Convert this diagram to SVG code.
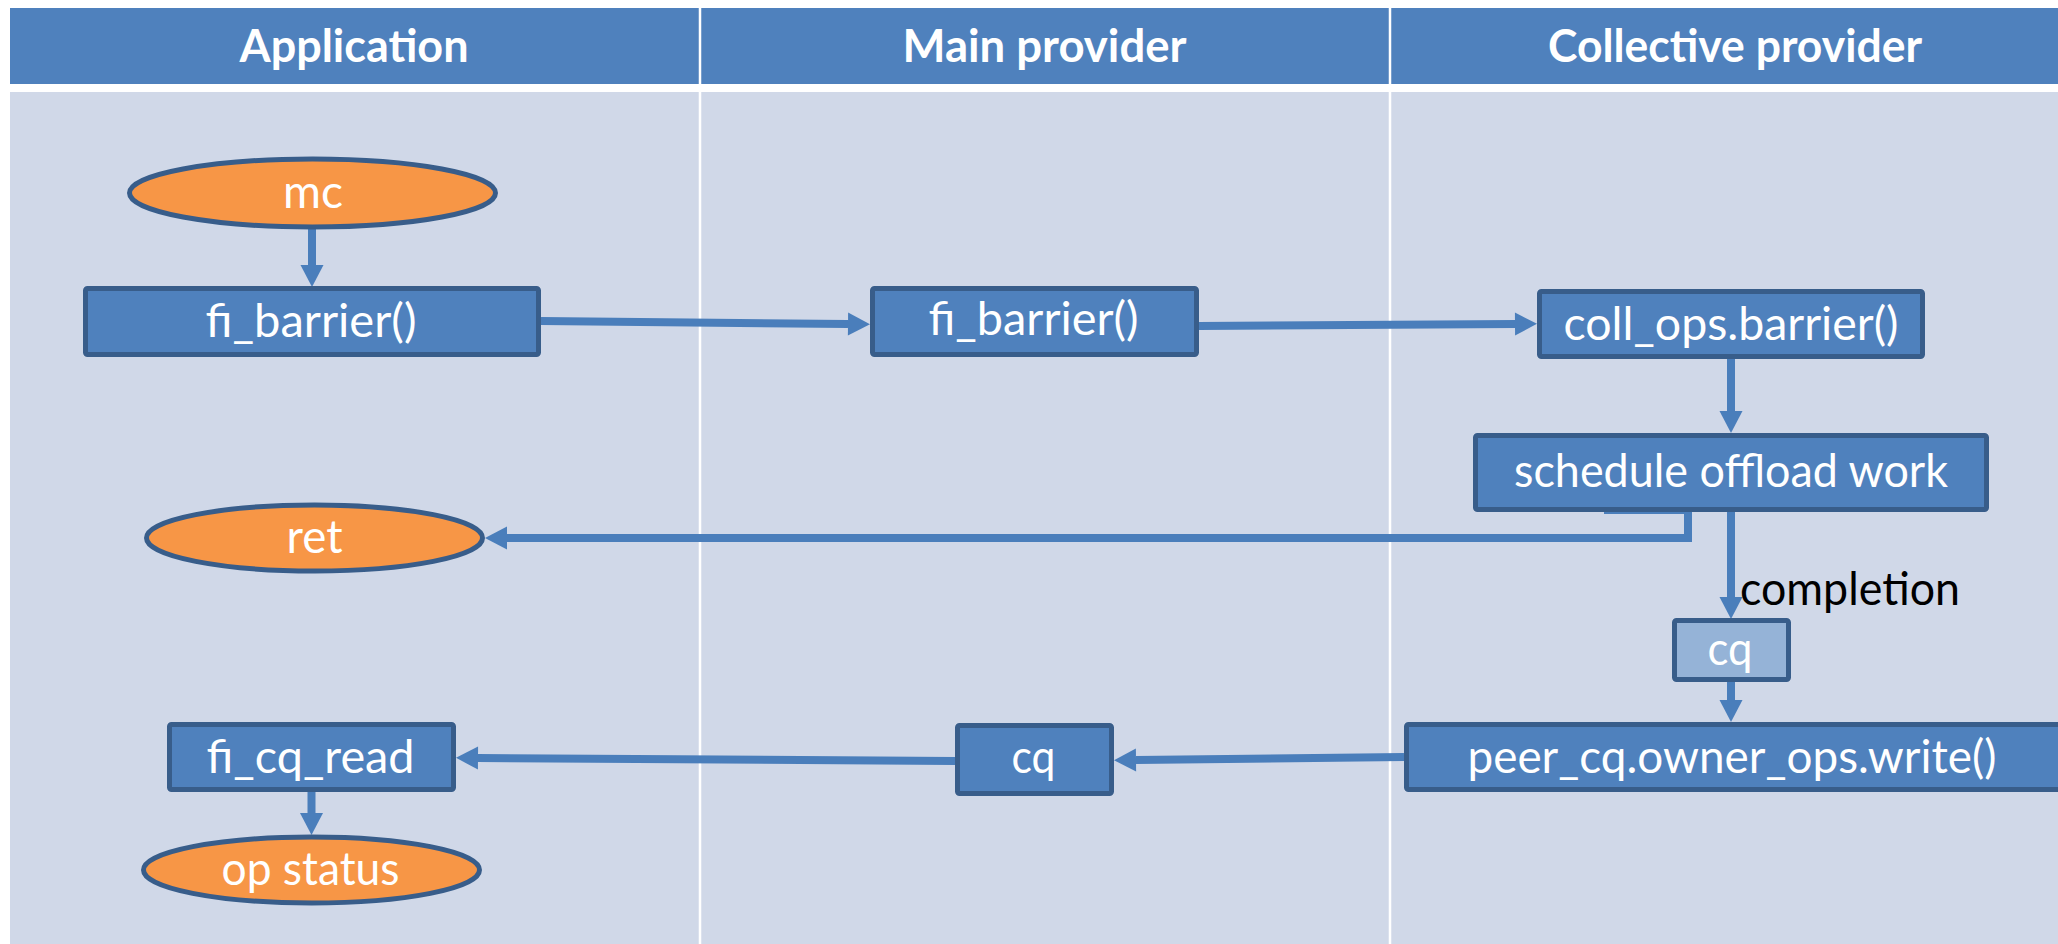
<svg xmlns="http://www.w3.org/2000/svg" width="2058" height="944" viewBox="0 0 2058 944">
<style>
.hdr{fill:#4F81BD}
.body{fill:#D0D8E8}
.div{stroke:#FFFFFF;stroke-width:2.5}
.htxt{font-family:Lato,"Liberation Sans",sans-serif;font-weight:bold;font-size:46px;fill:#FFFFFF;text-anchor:middle}
.box{fill:#4F81BD;stroke:#385D8A;stroke-width:5}
.lbox{fill:#95B3D7;stroke:#385D8A;stroke-width:5}
.ell{fill:#F79646;stroke:#385D8A;stroke-width:5}
.t{font-family:Lato,"Liberation Sans",sans-serif;font-size:46px;fill:#FFFFFF;text-anchor:middle}
.lbl{font-family:Lato,"Liberation Sans",sans-serif;font-size:46px;fill:#000000}
.c{fill:none;stroke:#4A7EBB;stroke-width:8;marker-end:url(#ah)}
</style>
<defs>
<marker id="ah" markerUnits="userSpaceOnUse" markerWidth="24" markerHeight="24" refX="0" refY="11.5" orient="auto" overflow="visible">
<path d="M0,0 L22,11.5 L0,23 Z" fill="#4A7EBB"/>
</marker>
</defs>
<rect width="2058" height="944" fill="#FFFFFF"/>
<g id="lanes">
<rect class="hdr" x="10" y="8" width="2048" height="76"/>
<rect class="body" x="10" y="92" width="2048" height="852"/>
<line class="div" x1="700" y1="8" x2="700" y2="944"/>
<line class="div" x1="1390" y1="8" x2="1390" y2="944"/>
<text class="htxt" x="354" y="62" textLength="229" lengthAdjust="spacingAndGlyphs">Application</text>
<text class="htxt" x="1044.5" y="62" textLength="284" lengthAdjust="spacingAndGlyphs">Main provider</text>
<text class="htxt" x="1735" y="62" textLength="374" lengthAdjust="spacingAndGlyphs">Collective provider</text>
</g>
<g id="connectors">
<path class="c" d="M312 229 V265"/>
<path class="c" d="M541 321 L848 324"/>
<path class="c" d="M1199 326 L1515 324"/>
<path class="c" d="M1731 359 V411"/>
<path class="c" d="M1604 510 H1688 V538 H507"/>
<path class="c" d="M1731 512 V597"/>
<path class="c" d="M1731 682 V700"/>
<path class="c" d="M1404 757 L1136 760"/>
<path class="c" d="M955 761 L478 758"/>
<path class="c" d="M311.5 792 V813"/>
</g>
<g id="mc">
<ellipse class="ell" cx="312.5" cy="193" rx="183" ry="34"/>
<text class="t" x="313" y="208" textLength="60" lengthAdjust="spacingAndGlyphs">mc</text>
</g>
<g id="app_fi_barrier">
<rect class="box" x="85.5" y="288.5" width="453" height="66" rx="2"/>
<text class="t" x="311" y="337" textLength="211" lengthAdjust="spacingAndGlyphs">fi_barrier()</text>
</g>
<g id="main_fi_barrier">
<rect class="box" x="872.5" y="288.5" width="324" height="66" rx="2"/>
<text class="t" x="1033.5" y="335" textLength="210" lengthAdjust="spacingAndGlyphs">fi_barrier()</text>
</g>
<g id="coll_ops_barrier">
<rect class="box" x="1539.5" y="291.5" width="383" height="65" rx="2"/>
<text class="t" x="1731" y="340" textLength="335" lengthAdjust="spacingAndGlyphs">coll_ops.barrier()</text>
</g>
<g id="schedule">
<rect class="box" x="1475.5" y="435.5" width="511" height="74" rx="2"/>
<text class="t" x="1731" y="487" textLength="434" lengthAdjust="spacingAndGlyphs">schedule offload work</text>
</g>
<g id="ret">
<ellipse class="ell" cx="314.5" cy="538" rx="168" ry="33"/>
<text class="t" x="314.5" y="553" textLength="56" lengthAdjust="spacingAndGlyphs">ret</text>
</g>
<g id="completion_label">
<text class="lbl" x="1740" y="605" textLength="220" lengthAdjust="spacingAndGlyphs">completion</text>
</g>
<g id="coll_cq">
<rect class="lbox" x="1674.5" y="620.5" width="114" height="59" rx="2"/>
<text class="t" x="1730" y="665" textLength="45" lengthAdjust="spacingAndGlyphs">cq</text>
</g>
<g id="peer_cq_write">
<rect class="box" x="1406.5" y="724.5" width="654" height="65" rx="2"/>
<text class="t" x="1732" y="773" textLength="529" lengthAdjust="spacingAndGlyphs">peer_cq.owner_ops.write()</text>
</g>
<g id="main_cq">
<rect class="box" x="957.5" y="725.5" width="154" height="68" rx="2"/>
<text class="t" x="1033.5" y="773" textLength="44" lengthAdjust="spacingAndGlyphs">cq</text>
</g>
<g id="fi_cq_read">
<rect class="box" x="169.5" y="724.5" width="284" height="65" rx="2"/>
<text class="t" x="310.5" y="773" textLength="208" lengthAdjust="spacingAndGlyphs">fi_cq_read</text>
</g>
<g id="op_status">
<ellipse class="ell" cx="311.5" cy="870" rx="168" ry="33"/>
<text class="t" x="310.5" y="885" textLength="178" lengthAdjust="spacingAndGlyphs">op status</text>
</g>
</svg>
